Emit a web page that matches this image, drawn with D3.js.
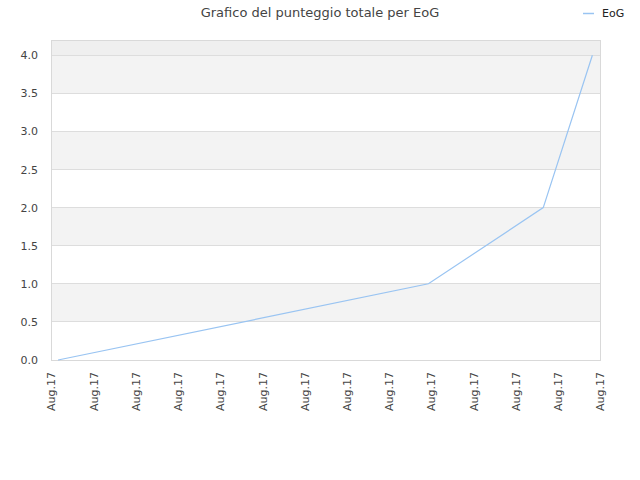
<!DOCTYPE html>
<html lang="it">
<head>
  <meta charset="UTF-8">
  <title>Grafico del punteggio totale per EoG</title>
  <script src="https://d3js.org/d3.v7.min.js"></script>
  <style>
    body { margin: 0; background: #fff; }
    text { font-family: "DejaVu Sans", Verdana, sans-serif; }
  </style>
</head>
<body>
<div class="canvas"></div>
<script>
  // data
  const seriesName = 'EoG'
  const dates = ['2017-08-01T04:00', '2017-08-09T22:30', '2017-08-12T15:45', '2017-08-13T19:40']
  const scores = [0, 1, 2, 4]
  const xDomain = ['2017-08-01T00:00', '2017-08-14T00:00']
  const yTicks = [0, 0.5, 1, 1.5, 2, 2.5, 3, 3.5, 4]

  const width = 640, height = 480
  const margin = {top: 40, right: 40, bottom: 120, left: 51}
  const innerW = width - margin.left - margin.right
  const innerH = height - margin.top - margin.bottom

  const parse = d3.timeParse('%Y-%m-%dT%H:%M')
  const points = dates.map((d, i) => ({date: parse(d), value: scores[i]}))

  const svg = d3.select('.canvas')
    .append('svg')
    .attr('width', width)
    .attr('height', height)

  const g = svg.append('g')
    .attr('transform', `translate(${margin.left}, ${margin.top})`)

  const x = d3.scaleTime()
    .domain(xDomain.map(parse))
    .range([0, innerW])

  const y = d3.scaleLinear()
    .domain([0, 4.2])
    .range([innerH, 0])

  // alternating bands, the top strip a little darker
  const bandEdges = yTicks.concat([4.2])
  g.selectAll('.band')
    .data(d3.pairs(bandEdges))
    .enter()
    .append('rect')
    .attr('x', 0)
    .attr('width', innerW)
    .attr('y', d => y(d[1]))
    .attr('height', d => y(d[0]) - y(d[1]))
    .attr('fill', (d, i) => i === bandEdges.length - 2 ? '#efefef' : (i % 2 === 1 ? '#f3f3f3' : '#ffffff'))

  // grid lines
  g.selectAll('.grid')
    .data(yTicks)
    .enter()
    .append('line')
    .attr('x1', 0)
    .attr('x2', innerW)
    .attr('y1', d => y(d))
    .attr('y2', d => y(d))
    .attr('stroke', '#dddddd')
    .attr('stroke-width', 1)
    .attr('shape-rendering', 'crispEdges')

  // frame
  g.append('rect')
    .attr('width', innerW)
    .attr('height', innerH)
    .attr('fill', 'none')
    .attr('stroke', '#d9d9d9')
    .attr('shape-rendering', 'crispEdges')

  // y axis labels
  const yAxis = g.append('g')
    .call(d3.axisLeft(y).tickValues(yTicks).tickFormat(d3.format('.1f')).tickSize(0).tickPadding(13))
  yAxis.select('.domain').remove()
  yAxis.selectAll('text')
    .attr('fill', '#444')
    .style('font-size', '11px')

  // x axis labels
  const xAxis = g.append('g')
    .attr('transform', `translate(0, ${innerH})`)
    .call(d3.axisBottom(x).ticks(d3.timeDay.every(1)).tickFormat(d3.timeFormat('%b.%y')).tickSize(0))
  xAxis.select('.domain').remove()
  xAxis.selectAll('text')
    .attr('fill', '#444')
    .style('font-size', '11px')
    .attr('text-anchor', 'end')
    .attr('transform', 'rotate(-90)')
    .attr('x', -12)
    .attr('y', 0)
    .attr('dy', '0.35em')

  // series line
  const line = d3.line()
    .x(d => x(d.date))
    .y(d => y(d.value))

  g.append('path')
    .datum(points)
    .attr('fill', 'none')
    .attr('stroke', '#99c4f2')
    .attr('stroke-width', 1.2)
    .attr('d', line)

  // title
  svg.append('text')
    .attr('x', 320)
    .attr('y', 17)
    .attr('text-anchor', 'middle')
    .attr('fill', '#444')
    .style('font-size', '13px')
    .text('Grafico del punteggio totale per EoG')

  // legend
  svg.append('line')
    .attr('x1', 583)
    .attr('x2', 594)
    .attr('y1', 13.5)
    .attr('y2', 13.5)
    .attr('stroke', '#99c4f2')
    .attr('stroke-width', 1.5)

  svg.append('text')
    .attr('x', 602)
    .attr('y', 17)
    .attr('fill', '#222')
    .style('font-size', '11px')
    .text(seriesName)
</script>
</body>
</html>
